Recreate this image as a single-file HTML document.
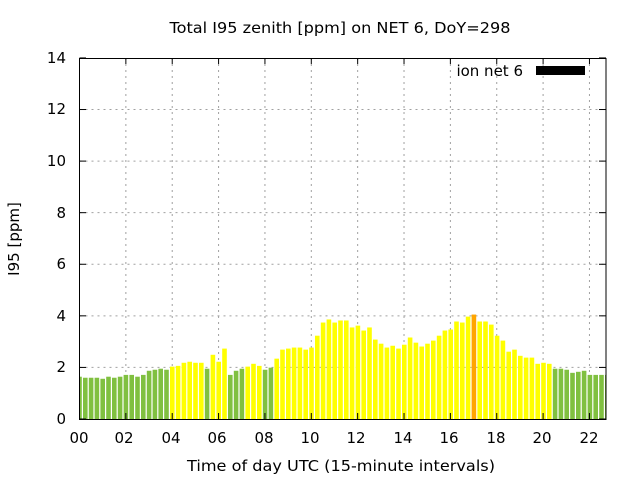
<!DOCTYPE html>
<html><head><meta charset="utf-8"><style>
html,body{margin:0;padding:0;background:#fff}
svg{display:block}
text{font-family:"DejaVu Sans","Liberation Sans",sans-serif;fill:#000}
</style></head><body>
<svg id="s" width="640" height="480" xmlns="http://www.w3.org/2000/svg">
<rect width="640" height="480" fill="#fff"/>
<defs><clipPath id="c"><rect x="79.5" y="58" width="526.5" height="361"/></clipPath></defs>
<g id="grid" stroke="#a0a0a0" stroke-width="1" stroke-dasharray="2,4"></g>
<g id="bars" clip-path="url(#c)"></g>
<g id="ticks" stroke="#000" stroke-width="1"></g>
<rect x="79.5" y="58.5" width="526.5" height="361" fill="none" stroke="#000" stroke-width="1"/>
<text x="340" y="33" font-size="15" text-anchor="middle" textLength="341" lengthAdjust="spacingAndGlyphs">Total I95 zenith [ppm] on NET 6, DoY=298</text>
<text x="341" y="471" font-size="15" text-anchor="middle" textLength="308" lengthAdjust="spacingAndGlyphs">Time of day UTC (15-minute intervals)</text>
<text transform="translate(19,239) rotate(-90)" font-size="15" text-anchor="middle">I95 [ppm]</text>
<text x="523" y="76" font-size="15" text-anchor="end">ion net 6</text>
<rect x="536" y="66" width="49" height="9" fill="#000"/>
<g font-size="15" text-anchor="end">
<text x="66" y="424">0</text><text x="66" y="372">2</text><text x="66" y="321">4</text>
<text x="66" y="269">6</text><text x="66" y="218">8</text><text x="66" y="166">10</text>
<text x="66" y="114">12</text><text x="66" y="63">14</text>
</g>
<g font-size="15" text-anchor="middle">
<text x="79" y="443">00</text><text x="124" y="443">02</text><text x="171" y="443">04</text>
<text x="217" y="443">06</text><text x="264" y="443">08</text><text x="310" y="443">10</text>
<text x="356" y="443">12</text><text x="403" y="443">14</text><text x="449" y="443">16</text>
<text x="496" y="443">18</text><text x="542" y="443">20</text><text x="589" y="443">22</text>
</g>
</svg>
<script>
var v=[1.64,1.6,1.6,1.6,1.56,1.64,1.6,1.64,1.71,1.71,1.64,1.71,1.87,1.91,1.95,1.91,
2.03,2.06,2.18,2.22,2.18,2.18,1.95,2.49,2.22,2.73,1.71,1.87,1.95,2.03,2.14,2.06,
1.91,1.99,2.34,2.69,2.73,2.77,2.77,2.69,2.77,3.23,3.74,3.86,3.74,3.82,3.82,
3.55,3.62,3.43,3.55,3.08,2.92,2.77,2.84,2.73,2.88,3.16,2.96,2.81,2.92,3.04,3.23,
3.43,3.47,3.78,3.74,3.97,4.05,3.78,3.78,3.66,3.23,3.04,2.61,2.69,2.45,2.38,2.38,
2.14,2.18,2.14,1.95,1.95,1.91,1.79,1.83,1.87,1.71,1.71,1.71,1.71];
var g=[0,1,2,3,4,5,6,7,8,9,10,11,12,13,14,15,22,26,27,28,32,33];
var ns="http://www.w3.org/2000/svg",b=document.getElementById("bars");
function el(p,t,a){var e=document.createElementNS(ns,t);for(var k in a)e.setAttribute(k,a[k]);p.appendChild(e);}
for(var i=0;i<v.length;i++){var c="#ffff00";if(i<16||g.indexOf(i)>=0||i>=82)c="#80c040";if(i==68)c="#ffa500";
var h=v[i]*25.79,x=79.5+i*5.8-2.3;el(b,"rect",{x:x,y:419-h,width:4.6,height:h,fill:c});}
var gr=document.getElementById("grid"),tk=document.getElementById("ticks");
for(var j=1;j<12;j++){var x=79.5+j*46.36;el(gr,"line",{x1:x,y1:58,x2:x,y2:419});}
for(var j=0;j<=11;j++){var x=79.5+j*46.36;el(tk,"line",{x1:x,y1:419,x2:x,y2:413});el(tk,"line",{x1:x,y1:58,x2:x,y2:64});}
for(var j=1;j<7;j++){var y=419-j*51.58;el(gr,"line",{x1:79.5,y1:y,x2:606,y2:y});}
for(var j=0;j<=7;j++){var y=419-j*51.58;el(tk,"line",{x1:79.5,y1:y,x2:86,y2:y});el(tk,"line",{x1:606,y1:y,x2:599,y2:y});}
</script>
</body></html>
